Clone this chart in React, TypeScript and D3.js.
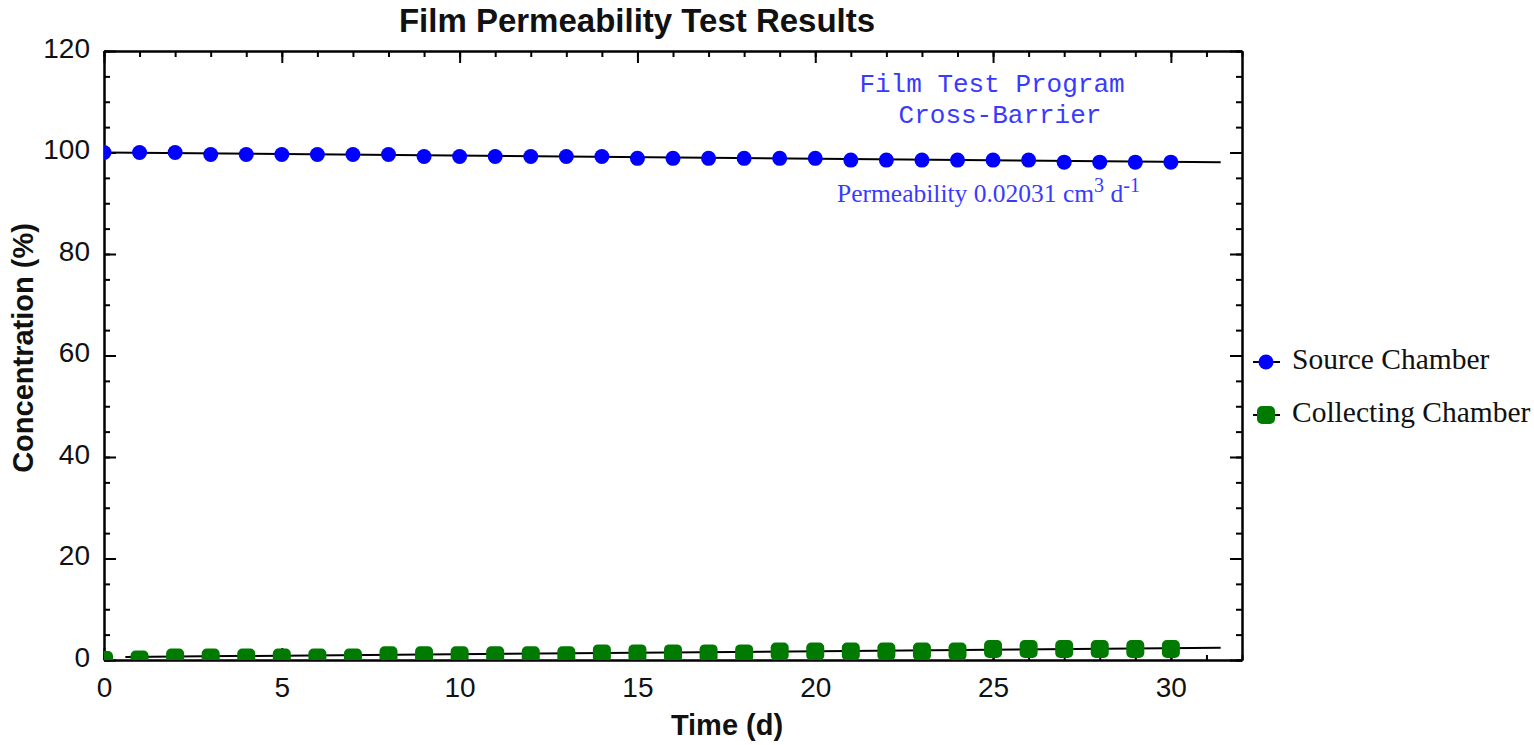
import React, {useEffect, useRef} from 'react';
import * as d3 from 'd3';

// data
const days = [0, 1, 2, 3, 4, 5, 6, 7, 8, 9, 10, 11, 12, 13, 14, 15, 16, 17, 18, 19, 20, 21, 22, 23, 24, 25, 26, 27, 28, 29, 30];
const sourceChamber = [100.0, 100.0, 100.0, 99.6, 99.6, 99.6, 99.6, 99.6, 99.6, 99.2, 99.2, 99.2, 99.2, 99.2, 99.2,
    98.85, 98.85, 98.85, 98.85, 98.85, 98.85, 98.5, 98.5, 98.5, 98.5, 98.5, 98.5, 98.1, 98.1, 98.1, 98.1];
const collectingChamber = [0.0, 0.1, 0.5, 0.5, 0.5, 0.5, 0.5, 0.5, 0.95, 0.95, 0.95, 0.95, 0.95, 0.95,
    1.3, 1.3, 1.3, 1.3, 1.3, 1.67, 1.67, 1.67, 1.67, 1.67, 1.67, 2.15, 2.15, 2.15, 2.15, 2.15, 2.15];

// fitted model lines
const sourceFitDays = [0, 31.4];
const sourceFit = [100, 98.1];
const collectFitDays = [0.6, 31.4];
const collectFit = [0.6, 2.4];

const xTicks = [0, 5, 10, 15, 20, 25, 30];
const yTicks = [0, 20, 40, 60, 80, 100, 120];
const seriesNames = ['Source Chamber', 'Collecting Chamber'];

const SANS = '"Liberation Sans", Arial, sans-serif';
const SERIF = '"Liberation Serif", "Times New Roman", serif';
const MONO = '"Liberation Mono", "Courier New", monospace';
const BLUE = '#0000ff';
const GREEN = '#007a00';
const NOTE = '#3a3aff';

export default function App() {
    const ref = useRef<SVGSVGElement>(null);

    useEffect(() => {
        const margin = {top: 51, right: 292, bottom: 85, left: 104};
        const W = 1534, H = 745;
        const width = W - margin.left - margin.right;
        const height = H - margin.top - margin.bottom;

        const svg = d3.select(ref.current);
        svg.selectAll('*').remove();

        const x = d3.scaleLinear().domain([0, 32]).range([0, width]);
        const y = d3.scaleLinear().domain([0, 120]).range([height, 0]);

        const g = svg.append('g').attr('transform', `translate(${margin.left},${margin.top})`);

        g.append('clipPath').attr('id', 'plotClip')
            .append('rect').attr('width', width).attr('height', height);

        //Axes: major + minor ticks on all four sides, pointing inward
        const minorX = d3.range(0, 33);
        const minorY = d3.range(0, 121, 5);
        const noLabel = () => '';

        const addAxis = (axis, transform) => {
            const a = g.append('g').attr('transform', transform).call(axis);
            a.selectAll('line').attr('stroke', '#000').attr('stroke-width', 2);
            a.select('.domain').attr('stroke', '#000').attr('stroke-width', 2);
            a.selectAll('text').attr('fill', '#111').style('font-family', SANS).style('font-size', '28px');
            return a;
        };

        addAxis(d3.axisBottom(x).tickValues(minorX).tickSize(-5).tickSizeOuter(0).tickFormat(noLabel), `translate(0,${height})`);
        addAxis(d3.axisBottom(x).tickValues(xTicks).tickSize(-12).tickSizeOuter(0).tickPadding(17), `translate(0,${height})`);
        addAxis(d3.axisTop(x).tickValues(minorX).tickSize(-6).tickSizeOuter(0).tickFormat(noLabel), 'translate(0,0)');
        addAxis(d3.axisTop(x).tickValues(xTicks).tickSize(-12).tickSizeOuter(0).tickFormat(noLabel), 'translate(0,0)');
        addAxis(d3.axisLeft(y).tickValues(minorY).tickSize(-6).tickSizeOuter(0).tickFormat(noLabel), 'translate(0,0)');
        const left = addAxis(d3.axisLeft(y).tickValues(yTicks).tickSize(-12).tickSizeOuter(0).tickPadding(14), 'translate(0,0)');
        left.selectAll('text').attr('dy', '0.22em');
        addAxis(d3.axisRight(y).tickValues(minorY).tickSize(-6).tickSizeOuter(0).tickFormat(noLabel), `translate(${width},0)`);
        addAxis(d3.axisRight(y).tickValues(yTicks).tickSize(-12).tickSizeOuter(0).tickFormat(noLabel), `translate(${width},0)`);

        //Fit lines
        const plot = g.append('g').attr('clip-path', 'url(#plotClip)');
        const fitLine = d3.line<[number, number]>().x(d => x(d[0])).y(d => y(d[1]));
        plot.append('path')
            .datum(sourceFitDays.map((t, i) => [t, sourceFit[i]] as [number, number]))
            .attr('fill', 'none').attr('stroke', '#000').attr('stroke-width', 2)
            .attr('d', fitLine);
        plot.append('path')
            .datum(collectFitDays.map((t, i) => [t, collectFit[i]] as [number, number]))
            .attr('fill', 'none').attr('stroke', '#000').attr('stroke-width', 2)
            .attr('d', fitLine);

        //Markers
        plot.selectAll('circle.src')
            .data(days)
            .enter().append('circle')
            .attr('class', 'src')
            .attr('cx', d => x(d))
            .attr('cy', (d, i) => y(sourceChamber[i]))
            .attr('r', 7.5)
            .attr('fill', BLUE);
        plot.selectAll('rect.col')
            .data(days)
            .enter().append('rect')
            .attr('class', 'col')
            .attr('x', d => x(d) - 9)
            .attr('y', (d, i) => y(collectingChamber[i]) - 9)
            .attr('width', 18).attr('height', 18)
            .attr('rx', 5)
            .attr('fill', GREEN);

        //Annotation
        g.append('text').attr('x', 888).attr('y', 41).attr('text-anchor', 'middle')
            .style('font-family', MONO).style('font-size', '26px').attr('fill', NOTE)
            .text('Film Test Program');
        g.append('text').attr('x', 896).attr('y', 72).attr('text-anchor', 'middle')
            .style('font-family', MONO).style('font-size', '26px').attr('fill', NOTE)
            .text('Cross-Barrier');
        const perm = g.append('text').attr('x', 733).attr('y', 151)
            .style('font-family', SERIF).style('font-size', '25.5px').attr('fill', NOTE);
        perm.append('tspan').text('Permeability 0.02031 cm');
        perm.append('tspan').attr('dy', -10).style('font-size', '20px').text('3');
        perm.append('tspan').attr('dy', 10).text(' d');
        perm.append('tspan').attr('dy', -10).style('font-size', '20px').text('-1');

        //Titles
        svg.append('text').attr('x', 637).attr('y', 32).attr('text-anchor', 'middle')
            .style('font-family', SANS).style('font-size', '33px').style('font-weight', 'bold')
            .attr('fill', '#111').text('Film Permeability Test Results');
        svg.append('text').attr('x', 727).attr('y', 735).attr('text-anchor', 'middle')
            .style('font-family', SANS).style('font-size', '29px').style('font-weight', 'bold')
            .attr('fill', '#111').text('Time (d)');
        svg.append('text').attr('transform', 'translate(33,348) rotate(-90)').attr('text-anchor', 'middle')
            .style('font-family', SANS).style('font-size', '29px').style('font-weight', 'bold')
            .attr('fill', '#111').text('Concentration (%)');

        //Legend
        const legend = svg.append('g').attr('transform', 'translate(1253,362)');
        seriesNames.forEach((name, i) => {
            const row = legend.append('g').attr('transform', `translate(0,${i * 53})`);
            row.append('line').attr('x1', 0).attr('x2', 27).attr('stroke', '#000').attr('stroke-width', 2);
            if (i === 0) {
                row.append('circle').attr('cx', 13).attr('r', 7.5).attr('fill', BLUE);
            } else {
                row.append('rect').attr('x', 4).attr('y', -9).attr('width', 18).attr('height', 18)
                    .attr('rx', 5).attr('fill', GREEN);
            }
            row.append('text').attr('x', 39).attr('y', 7)
                .style('font-family', SERIF).style('font-size', '29.5px').attr('fill', '#111')
                .text(name);
        });
    }, []);

    return (
        <svg ref={ref} width={1534} height={745}
             style={{position: 'absolute', left: 0, top: 0, background: '#fff'}}/>
    );
}
